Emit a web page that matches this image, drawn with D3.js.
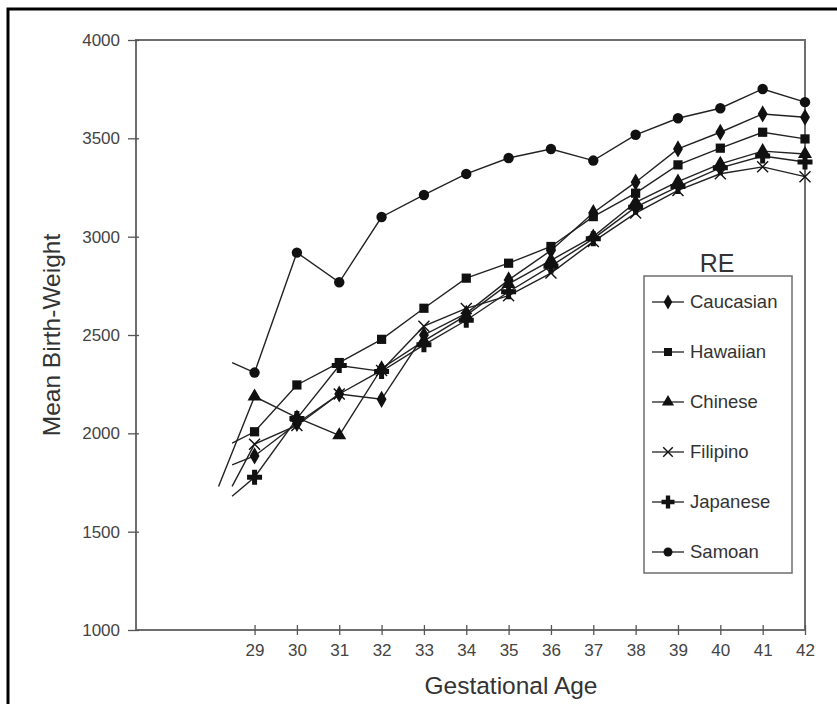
<!DOCTYPE html>
<html><head><meta charset="utf-8">
<script src="https://cdn.jsdelivr.net/npm/d3@7/dist/d3.min.js"></script>
<style>body{margin:0;background:#fff;}svg{display:block;font-family:"Liberation Sans",Arial,sans-serif;}</style>
</head><body>
<svg id="chart" width="837" height="704"></svg>
<script>
// ---- data ----
const ages = [29,30,31,32,33,34,35,36,37,38,39,40,41,42];
const seriesNames = ["Caucasian","Hawaiian","Chinese","Filipino","Japanese","Samoan"];
const caucasian = [1885,2050,2200,2173,2500,2610,2780,2930,3122,3277,3446,3531,3624,3607];
const hawaiian  = [2008,2246,2360,2478,2636,2789,2865,2950,3102,3221,3365,3450,3531,3497];
const chinese   = [2187,2080,1990,2330,2470,2600,2760,2880,3000,3175,3280,3370,3435,3420];
const filipino  = [1945,2040,2200,2320,2545,2635,2700,2815,2975,3120,3235,3320,3355,3305];
const japanese  = [1777,2075,2345,2315,2450,2575,2720,2850,2990,3150,3255,3350,3410,3380];
const samoan    = [2309,2919,2768,3100,3212,3319,3400,3446,3387,3518,3602,3653,3751,3684];
// lead-in segment starts (age, value) visible left of week 29
const leadAge   = [28.47,28.47,28.15,28.47,28.47,28.47];
const leadValue = [1840,1950,1730,1730,1680,2360];
const yTicks = [1000,1500,2000,2500,3000,3500,4000];
const xDomain = [26.2, 42];
const yDomain = [1000, 4000];

const values = [caucasian,hawaiian,chinese,filipino,japanese,samoan];
const markers = ["diamond","square","triangle","times","cross","circle"];

const svg = d3.select("#chart");
const x = d3.scaleLinear().domain(xDomain).range([136, 805]);
const y = d3.scaleLinear().domain(yDomain).range([630, 40]);

// outer border
svg.append("rect").attr("x",8).attr("y",9).attr("width",900).attr("height",800)
  .attr("fill","none").attr("stroke","#000").attr("stroke-width",3);

// plot frame
svg.append("rect").attr("x",x(xDomain[0])).attr("y",y(yDomain[1]))
  .attr("width",x(xDomain[1])-x(xDomain[0])).attr("height",y(yDomain[0])-y(yDomain[1]))
  .attr("fill","none").attr("stroke","#6e6e6e").attr("stroke-width",2);

// axes
const xAxis = d3.axisBottom(x).tickValues(ages).tickFormat(d3.format("d")).tickSize(5).tickPadding(9);
const gx = svg.append("g").attr("transform",`translate(0,${y(yDomain[0])})`).call(xAxis);
const yAxis = d3.axisLeft(y).tickValues(yTicks).tickFormat(d3.format("d")).tickSize(8).tickPadding(8);
const gy = svg.append("g").attr("transform",`translate(${x(xDomain[0])},0)`).call(yAxis);
[gx,gy].forEach(g=>{
  g.select(".domain").remove();
  g.selectAll(".tick line").attr("stroke","#555").attr("stroke-width",1.3);
  g.selectAll(".tick text").attr("fill","#444").attr("font-size",17).attr("font-family","Liberation Sans, Arial, sans-serif");
});
// x ticks cross axis
gx.selectAll(".tick line").attr("y1",-5).attr("y2",5);
gy.selectAll(".tick line").attr("x1",3).attr("x2",-8);

// axis titles
svg.append("text").attr("x",511).attr("y",694).attr("text-anchor","middle")
  .attr("font-size",24.5).attr("fill","#333").text("Gestational Age");
svg.append("text").attr("transform",`translate(60,${(y(1000)+y(4000))/2}) rotate(-90)`)
  .attr("text-anchor","middle").attr("font-size",24.5).attr("fill","#333").text("Mean Birth-Weight");

// marker drawing
function drawMarker(g, type, cx, cy, s){
  s = s||1;
  if(type==="diamond") g.append("path").attr("d",d3.symbol(d3.symbolDiamond,85*s)()).attr("transform",`translate(${cx},${cy})`).attr("fill","#111");
  else if(type==="square") g.append("path").attr("d",d3.symbol(d3.symbolSquare,85*s)()).attr("transform",`translate(${cx},${cy})`).attr("fill","#111");
  else if(type==="triangle") g.append("path").attr("d",d3.symbol(d3.symbolTriangle,85*s)()).attr("transform",`translate(${cx},${cy})`).attr("fill","#111");
  else if(type==="circle") g.append("path").attr("d",d3.symbol(d3.symbolCircle,85*s)()).attr("transform",`translate(${cx},${cy})`).attr("fill","#111");
  else if(type==="cross") g.append("path").attr("d",d3.symbol(d3.symbolCross,125*s)()).attr("transform",`translate(${cx},${cy})`).attr("fill","#111");
  else if(type==="times"){
    const r=5.5*Math.sqrt(s);
    g.append("path").attr("d",`M${-r},${-r}L${r},${r}M${-r},${r}L${r},${-r}`).attr("transform",`translate(${cx},${cy})`)
     .attr("stroke","#111").attr("stroke-width",1.4).attr("fill","none");
  }
}

const line = d3.line().x(d=>x(d[0])).y(d=>y(d[1]));
const plot = svg.append("g");
values.forEach((vals,i)=>{
  const pts = [[leadAge[i],leadValue[i]]].concat(ages.map((a,j)=>[a,vals[j]]));
  plot.append("path").datum(pts).attr("d",line).attr("fill","none").attr("stroke","#222").attr("stroke-width",1.4);
});
values.forEach((vals,i)=>{
  const g = plot.append("g");
  ages.forEach((a,j)=>drawMarker(g, markers[i], x(a), y(vals[j])));
});

// legend
svg.append("text").attr("x",717).attr("y",272).attr("text-anchor","middle").attr("font-size",25).attr("fill","#333").text("RE");
svg.append("rect").attr("x",644).attr("y",276).attr("width",148).attr("height",297)
  .attr("fill","#fff").attr("stroke","#6e6e6e").attr("stroke-width",1.5);
seriesNames.forEach((nm,i)=>{
  const cy = 302 + i*50;
  const g = svg.append("g");
  g.append("line").attr("x1",652).attr("x2",684).attr("y1",cy).attr("y2",cy).attr("stroke","#222").attr("stroke-width",1.3);
  drawMarker(g, markers[i], 668, cy, 0.75);
  g.append("text").attr("x",690).attr("y",cy+6).attr("font-size",18.5).attr("fill","#333").text(nm);
});
</script>
</body></html>
